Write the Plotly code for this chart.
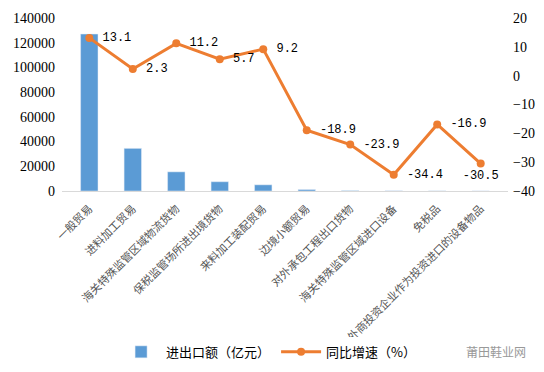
import plotly.graph_objects as go

categories = ["一般贸易", "进料加工贸易", "海关特殊监管区域物流货物", "保税监管场所进出境货物",
              "来料加工装配贸易", "边境小额贸易", "对外承包工程出口货物", "海关特殊监管区域进口设备",
              "免税品", "外商投资企业作为投资进口的设备物品"]
trade_value = [127000, 34500, 15500, 7500, 5000, 1200, 300, 150, 100, 50]
growth = [13.1, 2.3, 11.2, 5.7, 9.2, -18.9, -23.9, -34.4, -16.9, -30.5]
label_pos = ["middle right"] * 9 + ["bottom center"]
label_text = [(" " if p == "middle right" else "") + f"{v}" for v, p in zip(growth, label_pos)]

serif = "Liberation Serif, Noto Sans CJK SC"
mono = "Liberation Mono, DejaVu Sans Mono"
fig = go.Figure()
fig.add_trace(go.Bar(x=categories, y=trade_value, name="进出口额（亿元）",
                     marker_color="#5B9BD5", yaxis="y"))
fig.add_trace(go.Scatter(x=categories, y=growth, name="同比增速（%）", yaxis="y2",
                         mode="lines+markers+text", text=label_text,
                         textposition=label_pos,
                         textfont=dict(family=mono, size=12, color="#000"),
                         line=dict(color="#ED7D31", width=3),
                         marker=dict(color="#ED7D31", size=8)))
fig.update_layout(
    width=536, height=364,
    margin=dict(l=54, r=36, t=10, b=181, autoexpand=False),
    paper_bgcolor="white", plot_bgcolor="white",
    bargap=0.6,
    font=dict(family=serif, size=12, color="#333"),
    xaxis=dict(tickangle=-45, showline=True, linecolor="#D9D9D9", linewidth=1,
               tickfont=dict(family="Noto Sans CJK SC", size=11, color="#555"),
               ticks="", automargin=False, ticklabelstandoff=6),
    yaxis=dict(range=[0, 140000], dtick=20000, showgrid=False, zeroline=False,
               tickformat="d", automargin=False,
               tickfont=dict(family=serif, size=14, color="#000"), ticklabelstandoff=6),
    yaxis2=dict(range=[-40, 20], dtick=10, overlaying="y", side="right", showgrid=False,
                zeroline=False, automargin=False, tickformat="d",
                tickfont=dict(family=serif, size=14, color="#000"), ticklabelstandoff=4),
    legend=dict(orientation="h", x=0.48, xanchor="center", y=-0.93, yanchor="middle",
                entrywidth=105, itemwidth=40,
                font=dict(family="Noto Sans CJK SC", size=13, color="#000")),
    showlegend=True,
)
fig.add_annotation(text="莆田鞋业网", xref="paper", yref="paper", x=1.045, y=-0.93,
                   xanchor="right", yanchor="middle", showarrow=False,
                   font=dict(family="Noto Sans CJK SC", size=12, color="#999"))
fig.write_html("out.html")
